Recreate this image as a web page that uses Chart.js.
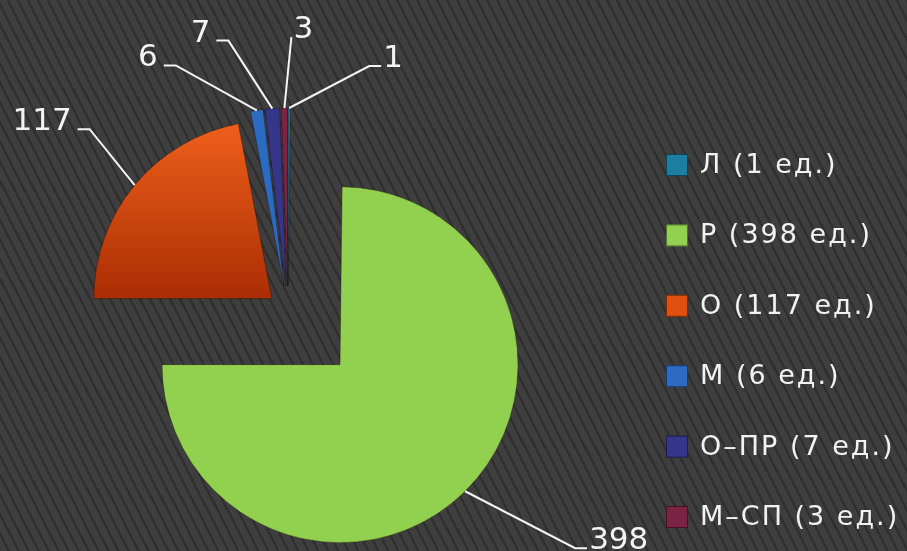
<!DOCTYPE html>
<html>
<head>
<meta charset="utf-8">
<title>Pie</title>
<script src="https://cdn.jsdelivr.net/npm/chart.js@4.4.1/dist/chart.umd.min.js"></script>
<style>
html, body { margin: 0; padding: 0; }
body {
    width: 907px; height: 551px; overflow: hidden;
    background-color: #3d3d3d;
    background-image: repeating-linear-gradient(63deg, #3e3e3e 0px, #3e3e3e 6.6px, #2f2f2f 6.6px, #2f2f2f 8.9px);
}
#wrap { position: relative; width: 907px; height: 551px; }
</style>
</head>
<body>
<div id="wrap"><canvas id="pieChart"></canvas></div>
<script>
const categories = ['Л', 'Р', 'О', 'М', 'О–ПР', 'М–СП'];
const values = [1, 398, 117, 6, 7, 3];
const unit = 'ед.';
const sliceColors = ['#1c7fa2', '#92d050', '#e2500f', '#2b6cc2', '#35368a', '#7c2242'];

// how far each slice is pulled out of the pie (px)
const explode = [26, 74, 21, 26, 26, 26];
// leader lines: dx, dy from slice edge to the elbow, side of the text (-1 left, 1 right, 0 none)
const leaders = [[80, -42, 1], [110, 57, 1], [-45, -56, -1], [-81, -45, -1], [-44, -68, -1], [7, -71, 0]];

const pieRadius = 178;
const legendX = 666, legendTop = 165, legendStep = 70.4;

const explodePlugin = {
    id: 'explode',
    afterDatasetsUpdate(chart) {
        const area = chart.chartArea;
        const cx = (area.left + area.right) / 2;
        const cy = (area.top + area.bottom) / 2;
        chart.getDatasetMeta(0).data.forEach((arc, i) => {
            const mid = (arc.startAngle + arc.endAngle) / 2;
            arc.x = cx + Math.cos(mid) * explode[i];
            arc.y = cy + Math.sin(mid) * explode[i];
        });
    }
};

const leaderLabels = {
    id: 'leaderLabels',
    afterDatasetsDraw(chart) {
        const ctx = chart.ctx;
        ctx.save();
        ctx.strokeStyle = '#f4f4f4';
        ctx.fillStyle = '#f4f4f4';
        ctx.lineWidth = 2;
        ctx.font = '31px "DejaVu Sans"';
        ctx.textBaseline = 'alphabetic';
        chart.getDatasetMeta(0).data.forEach((arc, i) => {
            const mid = (arc.startAngle + arc.endAngle) / 2;
            const sx = arc.x + Math.cos(mid) * arc.outerRadius;
            const sy = arc.y + Math.sin(mid) * arc.outerRadius;
            const [dx, dy, side] = leaders[i];
            const ex = sx + dx, ey = sy + dy;
            const tx = ex + side * 12;
            ctx.beginPath();
            ctx.moveTo(sx, sy);
            ctx.lineTo(ex, ey);
            ctx.lineTo(tx, ey);
            ctx.stroke();
            ctx.textAlign = side < 0 ? 'right' : 'left';
            ctx.fillText(String(values[i]), tx + (side < 0 ? -6 : 2), ey + 1);
        });
        ctx.restore();
    }
};

const sideLegend = {
    id: 'sideLegend',
    afterDraw(chart) {
        const ctx = chart.ctx;
        ctx.save();
        ctx.font = '27px "DejaVu Sans"';
        ctx.letterSpacing = '2px';
        ctx.textBaseline = 'middle';
        ctx.textAlign = 'left';
        categories.forEach((cat, i) => {
            const y = legendTop + i * legendStep;
            ctx.fillStyle = sliceColors[i];
            ctx.fillRect(legendX, y - 11, 22, 22);
            ctx.strokeStyle = 'rgba(0,0,0,0.45)';
            ctx.lineWidth = 1;
            ctx.strokeRect(legendX + 0.5, y - 10.5, 21, 21);
            ctx.fillStyle = '#f2f2f2';
            ctx.fillText(cat + ' (' + values[i] + ' ' + unit + ')', legendX + 34, y + 1);
        });
        ctx.restore();
    }
};

function sliceFill(context) {
    const i = context.dataIndex;
    const chart = context.chart;
    if (i === 2 && chart.chartArea) {
        const area = chart.chartArea;
        const cy = (area.top + area.bottom) / 2;
        const g = chart.ctx.createLinearGradient(0, cy - pieRadius - explode[2], 0, cy);
        g.addColorStop(0, '#f2621c');
        g.addColorStop(1, '#a52a02');
        return g;
    }
    return sliceColors[i];
}

const ctx = document.getElementById('pieChart').getContext('2d');

new Chart(ctx, {
    type: 'pie',
    data: {
        labels: categories,
        datasets: [{
            data: values,
            backgroundColor: sliceFill,
            borderColor: 'rgba(30,10,0,0.35)',
            borderWidth: 1
        }]
    },
    options: {
        responsive: true,
        maintainAspectRatio: false,
        animation: false,
        events: [],
        radius: pieRadius,
        layout: { padding: { left: 0, right: 331, top: 73, bottom: 0 } },
        plugins: {
            legend: { display: false },
            tooltip: { enabled: false }
        }
    },
    plugins: [explodePlugin, leaderLabels, sideLegend]
});
</script>
</body>
</html>
